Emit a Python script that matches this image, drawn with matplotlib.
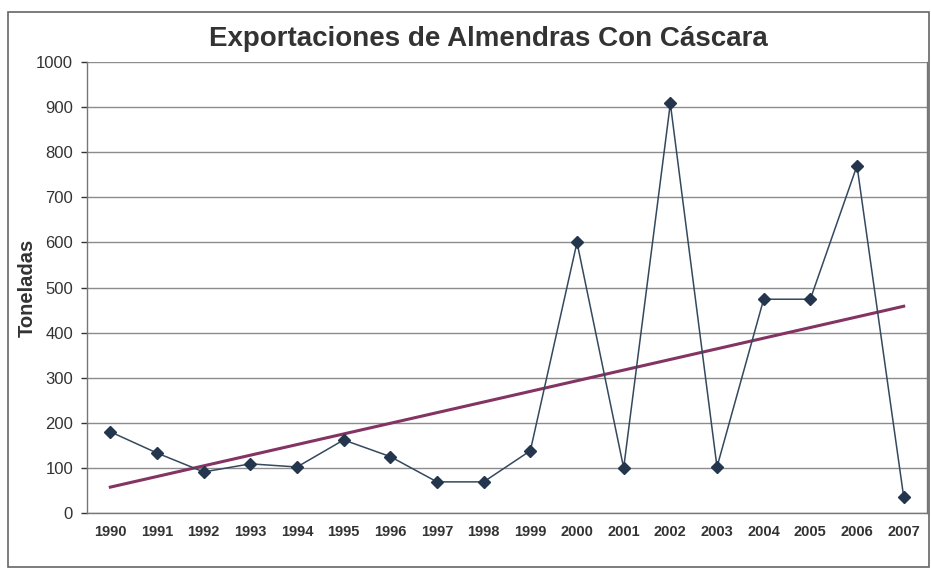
import matplotlib
matplotlib.use('Agg')
import matplotlib.pyplot as plt
from matplotlib.patches import Rectangle
import numpy as np

plt.rcParams['font.family'] = ['Liberation Sans', 'DejaVu Sans']

# ─── Data ─────────────────────────────────────────────
years = [str(y) for y in range(1990, 2008)]
toneladas = [180, 133, 91, 109, 102, 162, 125, 69, 69, 138,
             600, 100, 908, 102, 474, 474, 770, 36]
y_ticks = list(range(0, 1001, 100))

# ─── Colors ───────────────────────────────────────────
LINE_COLOR = '#34495E'
MARKER_COLOR = '#23364D'
TREND_COLOR = '#843463'
GRID_COLOR = '#8C8C8C'
TEXT_COLOR = '#333333'

fig = plt.figure(figsize=(9.31, 5.69), dpi=100)
fig.patch.set_facecolor('white')

# outer chart frame
frame = Rectangle((8 / 931, 1 - 567 / 569), 921 / 931, 555 / 569,
                  transform=fig.transFigure, fill=False, ec='#666666', lw=1.2)
fig.patches.append(frame)

ax = fig.add_axes([87 / 931, 1 - 513 / 569, 840 / 931, 451 / 569])

x = np.arange(len(years))
ax.plot(x, toneladas, color=LINE_COLOR, lw=1.1, marker='D', ms=6,
        mfc=MARKER_COLOR, mec=MARKER_COLOR, zorder=3)

# linear trend (least squares, like Excel)
coef = np.polyfit(x, toneladas, 1)
ax.plot(x, np.polyval(coef, x), color=TREND_COLOR, lw=2.2, zorder=2)

ax.set_xlim(-0.5, len(years) - 0.5)
ax.set_ylim(0, 1000)
ax.set_yticks(y_ticks)
ax.set_xticks(x)
ax.set_xticklabels(years, fontsize=10.5, fontweight='bold', color=TEXT_COLOR)
ax.tick_params(axis='y', labelsize=12, colors=TEXT_COLOR, length=4, width=1,
               pad=6)
ax.tick_params(axis='x', length=0, pad=9)

ax.grid(axis='y', color=GRID_COLOR, lw=1.0)
ax.set_axisbelow(True)
for side in ['left', 'bottom', 'right', 'top']:
    ax.spines[side].set_color('#777777')
    ax.spines[side].set_linewidth(1.0)
ax.spines['top'].set_visible(False)

ax.set_ylabel('Toneladas', fontsize=14.5, fontweight='bold', color=TEXT_COLOR)
ax.yaxis.set_label_coords(-50 / 840, 0.5)
fig.text(488 / 931, 1 - 46 / 569, 'Exportaciones de Almendras Con Cáscara',
         ha='center', va='baseline', fontsize=20, fontweight='bold',
         color=TEXT_COLOR)

plt.savefig('out.png', dpi=100, facecolor='white')
plt.close()
